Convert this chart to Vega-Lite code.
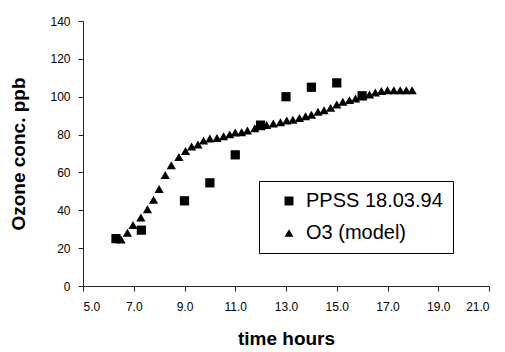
{
  "$schema": "https://vega.github.io/schema/vega-lite/v6.json",
  "width": 406,
  "height": 265,
  "autosize": {"type": "none"},
  "padding": {"left": 83, "top": 21, "right": 16, "bottom": 66},
  "background": "white",
  "config": {
    "view": {"stroke": null},
    "font": "Liberation Sans",
    "axis": {"grid": false, "domainColor": "#222", "tickColor": "#222", "labelColor": "black", "titleColor": "black", "labelFont": "Liberation Sans", "titleFont": "Liberation Sans", "labelFontSize": 12, "titleFontSize": 19, "titleFontWeight": "bold", "tickSize": 5}
  },
  "data": {
    "values": [
      {"series": "PPSS 18.03.94", "t": 6.3, "o3": 25},
      {"series": "PPSS 18.03.94", "t": 7.3, "o3": 29.5},
      {"series": "PPSS 18.03.94", "t": 9.0, "o3": 45},
      {"series": "PPSS 18.03.94", "t": 10.0, "o3": 54.5},
      {"series": "PPSS 18.03.94", "t": 11.0, "o3": 69.3},
      {"series": "PPSS 18.03.94", "t": 12.0, "o3": 85},
      {"series": "PPSS 18.03.94", "t": 13.0, "o3": 100},
      {"series": "PPSS 18.03.94", "t": 14.0, "o3": 105},
      {"series": "PPSS 18.03.94", "t": 15.0, "o3": 107.3},
      {"series": "PPSS 18.03.94", "t": 16.0, "o3": 100.5},
      {"series": "O3 (model)", "t": 6.5, "o3": 24.6},
      {"series": "O3 (model)", "t": 6.75, "o3": 28.1},
      {"series": "O3 (model)", "t": 6.97, "o3": 32.2},
      {"series": "O3 (model)", "t": 7.28, "o3": 36.2},
      {"series": "O3 (model)", "t": 7.54, "o3": 40.6},
      {"series": "O3 (model)", "t": 7.78, "o3": 45.6},
      {"series": "O3 (model)", "t": 8.0, "o3": 51.2},
      {"series": "O3 (model)", "t": 8.24, "o3": 58.6},
      {"series": "O3 (model)", "t": 8.48, "o3": 63.8},
      {"series": "O3 (model)", "t": 8.78, "o3": 68.1},
      {"series": "O3 (model)", "t": 9.04, "o3": 71.3},
      {"series": "O3 (model)", "t": 9.28, "o3": 73.7},
      {"series": "O3 (model)", "t": 9.53, "o3": 74.8},
      {"series": "O3 (model)", "t": 9.75, "o3": 76.8},
      {"series": "O3 (model)", "t": 10.0, "o3": 77.9},
      {"series": "O3 (model)", "t": 10.28, "o3": 78.2},
      {"series": "O3 (model)", "t": 10.54, "o3": 79.1},
      {"series": "O3 (model)", "t": 10.78, "o3": 80.1},
      {"series": "O3 (model)", "t": 11.0, "o3": 81.1},
      {"series": "O3 (model)", "t": 11.25, "o3": 81.2},
      {"series": "O3 (model)", "t": 11.48, "o3": 82.2},
      {"series": "O3 (model)", "t": 11.77, "o3": 83.3},
      {"series": "O3 (model)", "t": 12.02, "o3": 84.4},
      {"series": "O3 (model)", "t": 12.24, "o3": 85.0},
      {"series": "O3 (model)", "t": 12.5, "o3": 85.8},
      {"series": "O3 (model)", "t": 12.78, "o3": 86.5},
      {"series": "O3 (model)", "t": 13.03, "o3": 87.4},
      {"series": "O3 (model)", "t": 13.27, "o3": 87.8},
      {"series": "O3 (model)", "t": 13.53, "o3": 88.8},
      {"series": "O3 (model)", "t": 13.77, "o3": 89.7},
      {"series": "O3 (model)", "t": 14.0, "o3": 90.5},
      {"series": "O3 (model)", "t": 14.26, "o3": 92.0},
      {"series": "O3 (model)", "t": 14.5, "o3": 92.9},
      {"series": "O3 (model)", "t": 14.76, "o3": 94.1},
      {"series": "O3 (model)", "t": 15.0, "o3": 95.9},
      {"series": "O3 (model)", "t": 15.24, "o3": 97.3},
      {"series": "O3 (model)", "t": 15.5, "o3": 98.2},
      {"series": "O3 (model)", "t": 15.74, "o3": 99.0},
      {"series": "O3 (model)", "t": 16.03, "o3": 100.3},
      {"series": "O3 (model)", "t": 16.29, "o3": 101.2},
      {"series": "O3 (model)", "t": 16.52, "o3": 102.2},
      {"series": "O3 (model)", "t": 16.76, "o3": 103.0},
      {"series": "O3 (model)", "t": 17.0, "o3": 103.4},
      {"series": "O3 (model)", "t": 17.25, "o3": 103.4},
      {"series": "O3 (model)", "t": 17.5, "o3": 103.4},
      {"series": "O3 (model)", "t": 17.74, "o3": 103.4},
      {"series": "O3 (model)", "t": 17.97, "o3": 103.4}
    ]
  },
  "mark": {"type": "point", "filled": true, "color": "black", "opacity": 1, "size": 85},
  "encoding": {
    "x": {
      "field": "t", "type": "quantitative",
      "scale": {"domain": [5, 21], "nice": false, "zero": false},
      "axis": {"values": [5, 7, 9, 11, 13, 15, 17, 19, 21], "format": ".1f", "title": "time hours", "labelPadding": 10, "titlePadding": 17}
    },
    "y": {
      "field": "o3", "type": "quantitative",
      "scale": {"domain": [0, 140], "nice": false},
      "axis": {"values": [0, 20, 40, 60, 80, 100, 120, 140], "title": "Ozone conc. ppb", "labelPadding": 8, "titlePadding": 21}
    },
    "shape": {
      "field": "series", "type": "nominal",
      "scale": {"domain": ["PPSS 18.03.94", "O3 (model)"], "range": ["square", "triangle-up"]},
      "legend": {
        "title": null, "orient": "none", "legendX": 176, "legendY": 160,
        "strokeColor": "black", "fillColor": "white", "padding": 10,
        "symbolOffset": 10, "symbolSize": 80, "symbolFillColor": "black", "symbolStrokeColor": "black",
        "labelFontSize": 20, "labelFont": "Liberation Sans", "labelColor": "black", "rowPadding": 12, "labelOffset": 7
      }
    },
    "order": {"field": "series", "sort": "descending"}
  }
}
